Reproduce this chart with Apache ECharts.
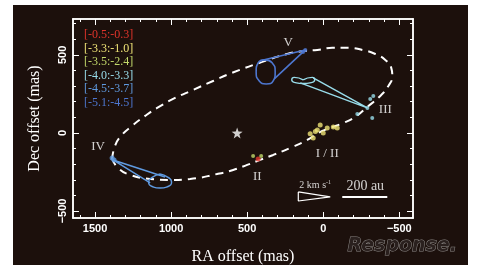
<!DOCTYPE html>
<html><head><meta charset="utf-8">
<script src="https://cdn.jsdelivr.net/npm/echarts@6/dist/echarts.min.js"></script>
<style>html,body{margin:0;padding:0;background:#fff}#c{width:478px;height:272px}</style>
</head><body><div id="c"></div>
<script>
// ---- axis ticks ----
const xMajorTicks = [1500, 1000, 500, 0, -500];
const xMinorTicks = [1600, 1400, 1300, 1200, 1100, 900, 800, 700, 600, 400, 300, 200, 100, -100, -200, -300, -400];
const yMajorTicks = [500, 0, -500];
const yMinorTicks = [700, 600, 400, 300, 200, 100, -100, -200, -300, -400];

// ---- legend (velocity ranges, km/s) ----
const legendRanges = ['[-0.5:-0.3]', '[-3.3:-1.0]', '[-3.5:-2.4]', '[-4.0:-3.3]', '[-4.5:-3.7]', '[-5.1:-4.5]'];
const legendColors = ['#e0342b', '#eee276', '#c2d86a', '#98dcea', '#5f9ae0', '#4d76cf'];

// ---- orbit (dashed ellipse), RA offset / Dec offset (mas) ----
const orbit = [
  [1388,-167],[1369,-83],[1329,-19],[1257,45],[1171,109],[1092,160],[974,224],[855,276],
  [724,333],[599,385],[401,455],[237,506],[118,526],[39,532],[-59,545],[-165,545],
  [-257,532],[-342,506],[-408,468],[-447,417],[-454,365],[-428,301],[-375,237],[-290,167],
  [-211,103],[-132,64],[-46,32],[33,0],[105,-45],[217,-96],[329,-141],[415,-173],
  [500,-205],[592,-237],[697,-263],[875,-295],[1007,-301],[1138,-295],[1270,-269],[1349,-224],[1388,-167]
];

// ---- maser spots per velocity range ----
const spotsRed = [[428,-167]];
const spotsYellow = [[39,19],[66,-32],[-26,32],[-66,38],[-92,32],[0,0],[86,-6],[20,51],[52,10]];
const spotsYellowGreen = [[461,-147],[408,-147]];
const spotsCyan = [[-329,237],[-309,218],[-322,96],[-290,160],[-224,122]];
const spotsBlue = [[1388,-160],[1375,-173]];
const spotsDarkBlue = [[118,532],[132,519]];

// ---- proper-motion cones ----
const coneVEllipse = [[382,468],[336,449],[316,391],[329,333],[375,314],[421,333],[441,391],[428,449],[382,468]];
const coneVLines = [[415,462],[118,532],[322,346]];
const coneIIIEllipse = [[132,340],[72,356],[56,340],[72,324],[132,317],[191,324],[207,340],[191,356],[132,340]];
const coneIIILines = [[66,353],[-290,160],[151,321]];
const coneIVEllipse = [[1073,-263],[1020,-285],[997,-314],[1020,-343],[1073,-353],[1125,-343],[1148,-314],[1125,-285],[1073,-263]];
const coneIVLines = [[1040,-282],[1382,-173],[1138,-320]];

// ---- star ----
const starPos = [[566,0]];

// ---- annotations ----
const annotations = [
  {name:'V', value:[230,577]},
  {name:'III', value:[-408,147]},
  {name:'IV', value:[1480,-90]},
  {name:'II', value:[434,-282]},
  {name:'I / II', value:[-26,-135]}
];
const velocityScaleLabel = [{name:'2 km s{s|-1}', value:[53,-333]}];
const lengthScaleLabel = [{name:'200 au', value:[-276,-340]}];
const velocityScaleTriangle = [[164,-378],[-46,-410],[164,-436],[164,-378]];
const lengthScaleBar = [[-125,-410],[-421,-410]];

const X_MIN = -590, X_MAX = 1645, Y_MIN = -545, Y_MAX = 730;
const fmt = v => v < 0 ? '\u2212' + Math.abs(v) : String(v);
const serif = "'Liberation Serif', 'DejaVu Serif', serif";

function xAx(pos, ticks, len, labels, extra) {
  return Object.assign({
    type:'value', position:pos, min:X_MIN, max:X_MAX, inverse:true,
    axisLine:{show:true, onZero:false, lineStyle:{color:'#fff', width:1.5}},
    axisTick:{show:true, inside:true, length:len, customValues:ticks, lineStyle:{color:'#fff', width:1}},
    axisLabel:labels ? {show:true, customValues:ticks, formatter:fmt, color:'#fff', fontFamily:"'Liberation Sans', Arial, sans-serif", fontWeight:'bold', fontSize:11, margin:5} : {show:false},
    splitLine:{show:false}
  }, extra || {});
}
function yAx(pos, ticks, len, labels, extra) {
  return Object.assign({
    type:'value', position:pos, min:Y_MIN, max:Y_MAX,
    axisLine:{show:true, onZero:false, lineStyle:{color:'#fff', width:1.5}},
    axisTick:{show:true, inside:true, length:len, customValues:ticks, lineStyle:{color:'#fff', width:1}},
    axisLabel:labels ? {show:true, customValues:ticks, formatter:fmt, color:'#fff', fontFamily:"'Liberation Sans', Arial, sans-serif", fontWeight:'bold', fontSize:11, rotate:90, margin:5} : {show:false},
    splitLine:{show:false}
  }, extra || {});
}

function lineSeries(data, color, width, smooth, dash) {
  return {type:'line', data:data, showSymbol:false, symbol:'none', smooth:smooth, silent:true,
    lineStyle:{color:color, width:width, type:dash || 'solid', cap:'butt'}, z:3};
}
function spotSeries(name, data, color, size) {
  return {type:'scatter', name:name, data:data, symbol:'circle', symbolSize:size, itemStyle:{color:color}, z:4};
}
function textSeries(data, size, rich) {
  return {type:'scatter', data:data, symbolSize:0, z:5, silent:true,
    label:{show:true, position:'inside', formatter:p => p.name, color:'#fff', fontFamily:serif, fontSize:size, rich:rich || {}}};
}

const chart = echarts.init(document.getElementById('c'), null, {renderer:'canvas'});
chart.setOption({
  backgroundColor:'#ffffff',
  animation:false,
  graphic:[
    {type:'rect', z:-100, shape:{x:13, y:5, width:455, height:260}, style:{fill:'#1c100c'}},
    {type:'text', z:-50, left:347, top:236, style:{text:'Response.', fontFamily:"'DejaVu Sans', sans-serif", fontStyle:'italic', fontWeight:'bold', fontSize:19, fill:'#2a201e', stroke:'#8c8886', lineWidth:1}}
  ],
  grid:{left:73, right:65, top:19, bottom:54, containLabel:false},
  legend:{
    show:true, orient:'vertical', left:78, top:28, itemWidth:1, itemHeight:10, itemGap:0, icon:'none', selectedMode:false,
    padding:0,
    textStyle:{fontFamily:serif, fontSize:12, lineHeight:13.6},
    data:legendRanges.map((n,i) => ({name:n, textStyle:{color:legendColors[i]}}))
  },
  xAxis:[
    xAx('bottom', xMajorTicks, 6, true, {name:'RA offset (mas)', nameLocation:'middle', nameGap:31, nameTextStyle:{color:'#fff', fontFamily:serif, fontSize:16}}),
    xAx('bottom', xMinorTicks, 3, false),
    xAx('top', xMajorTicks, 6, false),
    xAx('top', xMinorTicks, 3, false)
  ],
  yAxis:[
    yAx('left', yMajorTicks, 6, true, {name:'Dec offset (mas)', nameLocation:'middle', nameGap:30, nameRotate:90, nameTextStyle:{color:'#fff', fontFamily:serif, fontSize:16}}),
    yAx('left', yMinorTicks, 3, false),
    yAx('right', yMajorTicks, 6, false),
    yAx('right', yMinorTicks, 3, false)
  ],
  series:[
    lineSeries(orbit, '#ffffff', 2, 0.5, [8,6]),
    lineSeries(coneVEllipse, legendColors[5], 1.6, 0.6),
    lineSeries(coneVLines, legendColors[5], 1.6, false),
    lineSeries(coneIIIEllipse, legendColors[3], 1.4, 0.6),
    lineSeries(coneIIILines, legendColors[3], 1.4, false),
    lineSeries(coneIVEllipse, legendColors[4], 1.5, 0.6),
    lineSeries(coneIVLines, legendColors[4], 1.5, false),
    spotSeries(legendRanges[0], spotsRed, legendColors[0], 5),
    spotSeries(legendRanges[1], spotsYellow, legendColors[1], 5),
    spotSeries(legendRanges[2], spotsYellowGreen, legendColors[2], 4),
    spotSeries(legendRanges[3], spotsCyan, legendColors[3], 4),
    spotSeries(legendRanges[4], spotsBlue, legendColors[4], 5),
    spotSeries(legendRanges[5], spotsDarkBlue, legendColors[5], 4),
    {type:'scatter', data:starPos, symbol:'path://M0,-10L2.35,-3.24L9.51,-3.09L3.8,1.24L5.88,8.09L0,4L-5.88,8.09L-3.8,1.24L-9.51,-3.09L-2.35,-3.24Z', symbolSize:11, itemStyle:{color:'#fff'}, z:4, silent:true},
    textSeries(annotations, 13),
    textSeries(velocityScaleLabel, 10, {s:{fontSize:6, verticalAlign:'top', color:'#fff', fontFamily:serif, padding:[0,0,5,0]}}),
    textSeries(lengthScaleLabel, 14),
    lineSeries(velocityScaleTriangle, '#ffffff', 1.2, false),
    lineSeries(lengthScaleBar, '#ffffff', 2, false)
  ]
});
</script>
</body></html>
